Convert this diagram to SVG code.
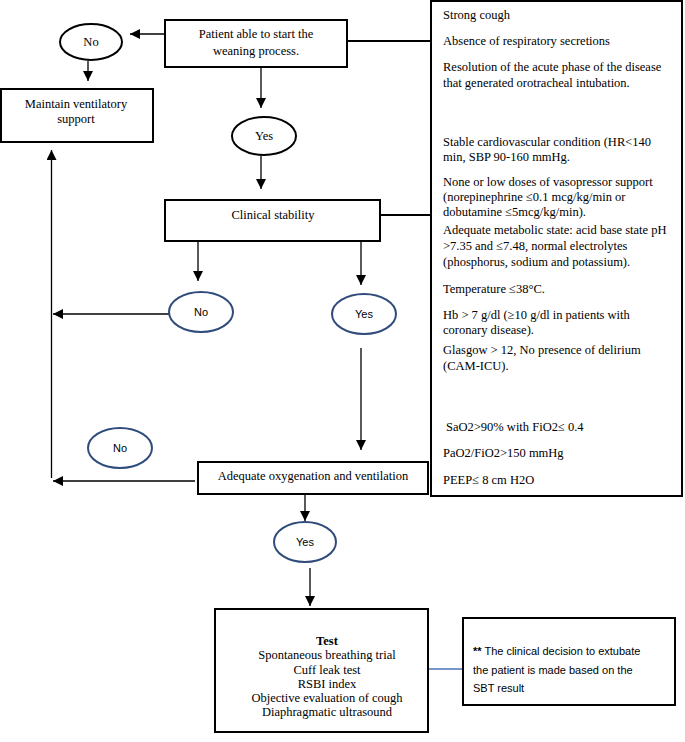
<svg xmlns="http://www.w3.org/2000/svg" width="685" height="742" viewBox="0 0 685 742">
<defs>
<marker id="arr" markerUnits="userSpaceOnUse" markerWidth="10" markerHeight="10" viewBox="0 0 10 10" refX="10" refY="5" orient="auto">
<path d="M0,0 L10,5 L0,10 z" fill="#000"/>
</marker>
<style>
.box{fill:#fff;stroke:#000;stroke-width:2}
.ell{fill:#fff;stroke:#000;stroke-width:2}
.bell{fill:#fff;stroke:#2F4B7C;stroke-width:2}
.t{font-family:"Liberation Serif","Times New Roman",serif;font-size:12.5px;fill:#000}
.c{text-anchor:middle}
.s{font-family:"Liberation Sans",Arial,sans-serif;font-size:11px;fill:#000}
.ln{fill:none;stroke:#000;stroke-width:1.3}
.lnt{fill:none;stroke:#000;stroke-width:2}
</style>
</defs>
<rect width="685" height="742" fill="#fff"/>

<g id="connectors">
<line class="lnt" x1="347" y1="41" x2="431" y2="41"/>
<line class="lnt" x1="380" y1="215" x2="431" y2="215"/>
<line class="ln" x1="165" y1="34" x2="130" y2="34" marker-end="url(#arr)"/>
<line class="ln" x1="88" y1="61" x2="88" y2="81" marker-end="url(#arr)"/>
<line class="ln" x1="261" y1="67" x2="261" y2="108" marker-end="url(#arr)"/>
<line class="ln" x1="261" y1="156" x2="261" y2="189" marker-end="url(#arr)"/>
<line class="ln" x1="198" y1="241" x2="198" y2="281" marker-end="url(#arr)"/>
<line class="ln" x1="361" y1="241" x2="361" y2="285" marker-end="url(#arr)"/>
<line class="ln" x1="169" y1="314" x2="53" y2="314" marker-end="url(#arr)"/>
<line class="ln" x1="361" y1="348" x2="361" y2="450" marker-end="url(#arr)"/>
<line class="ln" x1="195" y1="481" x2="53" y2="481" marker-end="url(#arr)"/>
<line class="ln" x1="51.5" y1="478" x2="51.5" y2="150" marker-end="url(#arr)"/>
<line class="ln" x1="305" y1="494" x2="305" y2="521" marker-end="url(#arr)"/>
<line class="ln" x1="310" y1="568" x2="310" y2="606" marker-end="url(#arr)"/>
<line x1="428" y1="669" x2="463" y2="669" stroke="#4A72B8" stroke-width="1.5"/>
</g>

<g id="n-start">
<rect class="box" x="165" y="20" width="182" height="47"/>
<text class="t c" x="256" y="38">Patient able to start the</text>
<text class="t c" x="256" y="55">weaning process.</text>
</g>

<g id="n-no1">
<ellipse class="ell" cx="91" cy="42" rx="31" ry="18"/>
<text class="t c" x="91" y="46">No</text>
</g>

<g id="n-maintain">
<rect class="box" x="1" y="89" width="152" height="53"/>
<text class="t c" x="76" y="108">Maintain ventilatory</text>
<text class="t c" x="76" y="123">support</text>
</g>

<g id="n-yes1">
<ellipse class="ell" cx="264" cy="136" rx="32" ry="19"/>
<text class="t c" x="264" y="140">Yes</text>
</g>

<g id="n-clinical">
<rect class="box" x="165" y="200" width="215" height="41"/>
<text class="t c" x="273" y="219">Clinical stability</text>
</g>

<g id="n-no2">
<ellipse class="bell" cx="201" cy="312" rx="32" ry="20"/>
<text class="s c" x="201" y="316">No</text>
</g>

<g id="n-yes2">
<ellipse class="bell" cx="364" cy="314" rx="32" ry="20"/>
<text class="s c" x="364" y="318">Yes</text>
</g>

<g id="n-no3">
<ellipse class="bell" cx="120" cy="448" rx="32" ry="20"/>
<text class="s c" x="120" y="452">No</text>
</g>

<g id="n-oxygen">
<rect class="box" x="198" y="462" width="230" height="32"/>
<text class="t c" x="313" y="480">Adequate oxygenation and ventilation</text>
</g>

<g id="n-yes3">
<ellipse class="bell" cx="305" cy="542" rx="31" ry="20"/>
<text class="s c" x="305" y="546">Yes</text>
</g>

<g id="n-test">
<rect class="box" x="215" y="609" width="213" height="123"/>
<text class="t c" x="327" y="645" font-weight="bold">Test</text>
<text class="t c" x="327" y="659">Spontaneous breathing trial</text>
<text class="t c" x="327" y="674">Cuff leak test</text>
<text class="t c" x="327" y="688">RSBI index</text>
<text class="t c" x="327" y="702">Objective evaluation of cough</text>
<text class="t c" x="327" y="716">Diaphragmatic ultrasound</text>
</g>

<g id="n-note">
<rect class="box" x="463" y="618" width="212" height="87"/>
<text class="s" x="473" y="655"><tspan font-weight="bold">**</tspan>  The clinical decision to extubate</text>
<text class="s" x="473" y="674">the patient is made based on the</text>
<text class="s" x="473" y="692">SBT result</text>
</g>

<g id="n-criteria">
<rect class="box" x="431" y="1" width="251" height="495"/>
<text class="t" x="443" y="19">Strong cough</text>
<text class="t" x="443" y="45">Absence of respiratory secretions</text>
<text class="t" x="443" y="71">Resolution of the acute phase of the disease</text>
<text class="t" x="443" y="87">that generated orotracheal intubation.</text>
<text class="t" x="443" y="146">Stable cardiovascular condition (HR&lt;140</text>
<text class="t" x="443" y="161">min, SBP 90-160 mmHg.</text>
<text class="t" x="443" y="186">None or low doses of vasopressor support</text>
<text class="t" x="443" y="201">(norepinephrine ≤0.1 mcg/kg/min or</text>
<text class="t" x="443" y="216">dobutamine ≤5mcg/kg/min).</text>
<text class="t" x="443" y="234">Adequate metabolic state: acid base state pH</text>
<text class="t" x="443" y="250">&gt;7.35 and ≤7.48, normal electrolytes</text>
<text class="t" x="443" y="266">(phosphorus, sodium and potassium).</text>
<text class="t" x="443" y="293">Temperature ≤38°C.</text>
<text class="t" x="443" y="319">Hb &gt; 7 g/dl (≥10 g/dl in patients with</text>
<text class="t" x="443" y="334">coronary disease).</text>
<text class="t" x="443" y="354">Glasgow &gt; 12, No presence of delirium</text>
<text class="t" x="443" y="370">(CAM-ICU).</text>
<text class="t" x="446" y="431">SaO2&gt;90% with FiO2≤ 0.4</text>
<text class="t" x="443" y="457">PaO2/FiO2&gt;150 mmHg</text>
<text class="t" x="443" y="484">PEEP≤ 8 cm H2O</text>
</g>
</svg>
